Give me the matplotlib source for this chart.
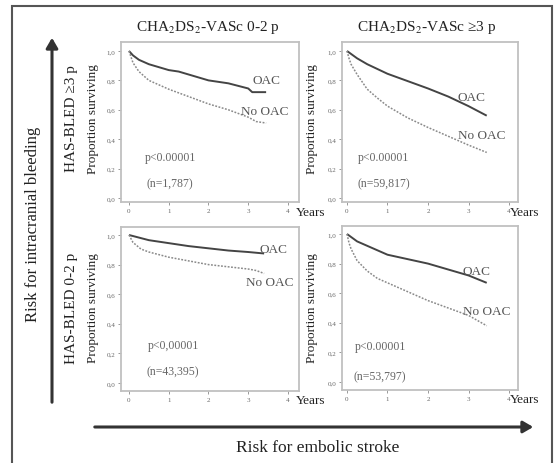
import matplotlib
matplotlib.use("Agg")
import matplotlib.pyplot as plt
from matplotlib.patches import Rectangle, FancyArrowPatch

plt.rcParams['font.family'] = ['Liberation Serif', 'DejaVu Serif']
plt.rcParams['mathtext.fontset'] = 'stix'

# ---- data ----
col_titles = [r"CHA$_2$DS$_2$-VASc 0-2 p", r"CHA$_2$DS$_2$-VASc ≥3 p"]
row_titles = ["HAS-BLED ≥3 p", "HAS-BLED 0-2 p"]
p_texts = ["p<0.00001", "p<0.00001", "p<0,00001", "p<0.00001"]
n_texts = ["(n=1,787)", "(n=59,817)", "(n=43,395)", "(n=53,797)"]
yticks = [0.0, 0.2, 0.4, 0.6, 0.8, 1.0]
ytick_labels = ["0,0", "0,2", "0,4", "0,6", "0,8", "1,0"]
xticks = [0, 1, 2, 3, 4]

# top-left: HAS-BLED >=3, CHA2DS2-VASc 0-2
tl_oac_t = [0, 0.1, 0.25, 0.5, 0.75, 1.0, 1.25, 1.5, 1.75, 2.0, 2.5, 3.0, 3.1, 3.45]
tl_oac_v = [1.0, 0.97, 0.94, 0.91, 0.89, 0.87, 0.86, 0.84, 0.82, 0.80, 0.78, 0.745, 0.72, 0.72]
tl_no_t = [0, 0.1, 0.25, 0.5, 0.75, 1.0, 1.5, 2.0, 2.5, 3.0, 3.2, 3.45]
tl_no_v = [1.0, 0.92, 0.86, 0.80, 0.77, 0.74, 0.69, 0.64, 0.60, 0.55, 0.52, 0.51]

# top-right: HAS-BLED >=3, CHA2DS2-VASc >=3
tr_oac_t = [0, 0.25, 0.5, 1.0, 1.5, 2.0, 2.5, 3.0, 3.45]
tr_oac_v = [1.0, 0.95, 0.91, 0.845, 0.795, 0.745, 0.69, 0.625, 0.56]
tr_no_t = [0, 0.05, 0.1, 0.25, 0.5, 0.75, 1.0, 1.5, 2.0, 2.5, 3.0, 3.45]
tr_no_v = [1.0, 0.95, 0.91, 0.84, 0.74, 0.68, 0.625, 0.545, 0.48, 0.42, 0.36, 0.31]

# bottom-left: HAS-BLED 0-2, CHA2DS2-VASc 0-2
bl_oac_t = [0, 0.5, 1.0, 1.5, 2.0, 2.5, 3.0, 3.4]
bl_oac_v = [1.0, 0.965, 0.945, 0.925, 0.91, 0.895, 0.885, 0.875]
bl_no_t = [0, 0.1, 0.3, 0.5, 1.0, 1.5, 2.0, 2.5, 3.0, 3.2, 3.4]
bl_no_v = [1.0, 0.95, 0.905, 0.885, 0.85, 0.825, 0.80, 0.785, 0.77, 0.76, 0.74]

# bottom-right: HAS-BLED 0-2, CHA2DS2-VASc >=3
br_oac_t = [0, 0.25, 0.5, 1.0, 1.5, 2.0, 2.5, 3.0, 3.45]
br_oac_v = [1.0, 0.95, 0.92, 0.86, 0.83, 0.80, 0.76, 0.72, 0.67]
br_no_t = [0, 0.05, 0.1, 0.25, 0.5, 0.75, 1.0, 1.5, 2.0, 2.5, 3.0, 3.45]
br_no_v = [1.0, 0.94, 0.90, 0.82, 0.75, 0.70, 0.67, 0.61, 0.55, 0.50, 0.45, 0.38]

W, H = 555, 464


def box(l, t, r, b):
    return [l / W, 1 - b / H, (r - l) / W, (b - t) / H]


def fxy(x, y):
    return x / W, 1 - y / H


fig = plt.figure(figsize=(W / 100, H / 100), dpi=100)

# outer frame (cut off at the bottom)
fig.patches.append(Rectangle(fxy(12, 475), (552 - 12) / W, (475 - 7) / H,
                             transform=fig.transFigure, fill=False,
                             edgecolor='#555555', lw=1.5))

panels = [
    (box(121, 43, 299, 203), (-0.201, 4.277), (-0.027, 1.061),
     tl_oac_t, tl_oac_v, tl_no_t, tl_no_v,
     (3.1, 0.80), (2.83, 0.59), (0.4, 0.28), (0.45, 0.10)),
    (box(342, 43, 518, 203), (-0.123, 4.222), (-0.027, 1.061),
     tr_oac_t, tr_oac_v, tr_no_t, tr_no_v,
     (2.72, 0.69), (2.74, 0.43), (0.27, 0.28), (0.27, 0.10)),
    (box(121, 228, 299, 392), (-0.201, 4.277), (-0.054, 1.054),
     bl_oac_t, bl_oac_v, bl_no_t, bl_no_v,
     (3.28, 0.905), (2.95, 0.68), (0.48, 0.26), (0.45, 0.08)),
    (box(342, 227, 518, 391), (-0.123, 4.222), (-0.054, 1.054),
     br_oac_t, br_oac_v, br_no_t, br_no_v,
     (2.84, 0.75), (2.86, 0.48), (0.2, 0.24), (0.15, 0.04)),
]

for i, (pos, xl, yl, ot, ov, nt, nv, oac_xy, no_xy, p_xy, n_xy) in enumerate(panels):
    ax = fig.add_axes(pos)
    ax.plot(ot, ov, color='#444444', lw=1.4, solid_capstyle='butt')
    ax.plot(nt, nv, color='#8a8a8a', lw=1.1, linestyle=(0, (1.2, 1.0)))
    ax.set_xlim(*xl)
    ax.set_ylim(*yl)
    ax.set_xticks(xticks)
    ax.set_xticklabels([str(x) for x in xticks])
    ax.set_yticks(yticks)
    ax.set_yticklabels(ytick_labels)
    ax.tick_params(direction='out', length=2.5, width=0.7, color='#999999',
                   labelsize=5, labelcolor='#666666', pad=1.5)
    for s in ax.spines.values():
        s.set_color('#c0c0c0')
        s.set_linewidth(1.3)
    ax.text(*oac_xy, "OAC", fontsize=9.5, color='#555555', va='center')
    ax.text(*no_xy, "No OAC", fontsize=9.5, color='#555555', va='center')
    ax.text(*p_xy, p_texts[i], fontsize=8.5, color='#666666', va='center')
    ax.text(*n_xy, n_texts[i], fontsize=8.5, color='#666666', va='center')

# column titles
fig.text(*fxy(208, 28), col_titles[0], fontsize=11, ha='center', va='center', color='#222222')
fig.text(*fxy(427, 28), col_titles[1], fontsize=11, ha='center', va='center', color='#222222')

# row titles and y labels
for yc, rt in zip([119, 308], row_titles):
    fig.text(*fxy(71, yc), rt, fontsize=11, rotation=90, ha='center', va='center', color='#222222')
    fig.text(*fxy(93, yc), "Proportion surviving", fontsize=9.5, rotation=90,
             ha='center', va='center', color='#222222')
    fig.text(*fxy(312, yc), "Proportion surviving", fontsize=9.5, rotation=90,
             ha='center', va='center', color='#222222')

# "Years" labels
for x, y in [(296, 213), (510, 213), (296, 401), (510, 400)]:
    fig.text(*fxy(x, y), "Years", fontsize=9.5, ha='left', va='center', color='#222222')

# big arrows
fig.patches.append(FancyArrowPatch(fxy(52, 406), fxy(52, 36), transform=fig.transFigure,
                                   arrowstyle='-|>,head_length=6,head_width=3.5',
                                   color='#333333', lw=2.2, mutation_scale=1))
fig.patches.append(FancyArrowPatch(fxy(92, 428), fxy(536, 428), transform=fig.transFigure,
                                   arrowstyle='-|>,head_length=6,head_width=3.5',
                                   color='#333333', lw=2.2, mutation_scale=1))

fig.text(*fxy(33, 224), "Risk for intracranial bleeding", fontsize=12, rotation=90,
         ha='center', va='center', color='#222222')
fig.text(*fxy(318, 448), "Risk for embolic stroke", fontsize=12.5,
         ha='center', va='center', color='#222222')

fig.savefig("out.png", dpi=100)
